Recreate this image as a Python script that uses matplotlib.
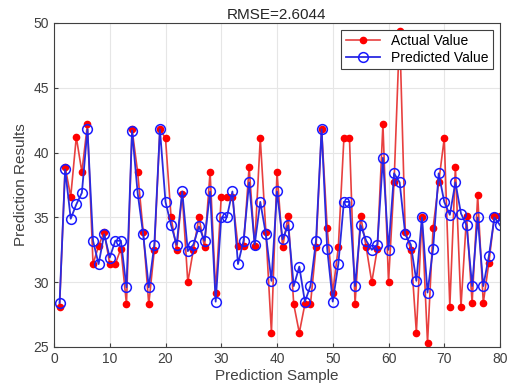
import numpy as np
import matplotlib.pyplot as plt

plt.rcParams['font.family'] = ['Liberation Sans', 'DejaVu Sans']

sample = np.arange(1, 81)
actual = [28.1, 38.9, 36.6, 41.2, 38.5, 42.2, 31.4, 32.8, 33.9, 31.4,
          31.4, 32.6, 28.3, 41.8, 38.5, 33.9, 28.3, 32.5, 41.8, 41.1,
          35.0, 32.5, 36.8, 30.0, 32.5, 35.0, 32.7, 38.5, 29.2, 36.6,
          36.6, 36.6, 32.8, 32.8, 38.9, 32.8, 41.1, 33.9, 26.1, 38.5,
          32.7, 35.1, 28.3, 26.1, 28.3, 28.3, 32.7, 41.8, 34.2, 29.2,
          32.7, 41.1, 41.1, 28.3, 35.1, 32.7, 30.0, 32.6, 42.2, 30.0,
          37.7, 49.4, 33.9, 32.5, 26.1, 35.0, 25.3, 34.2, 37.7, 41.1,
          28.1, 38.9, 28.1, 35.1, 28.4, 36.7, 28.4, 31.5, 35.1, 35.1]
predicted = [28.4, 38.7, 34.9, 36.0, 36.9, 41.8, 33.2, 31.4, 33.7, 31.9,
             33.2, 33.2, 29.6, 41.7, 36.9, 33.7, 29.6, 32.9, 41.8, 36.2,
             34.4, 32.9, 37.0, 32.4, 32.9, 34.3, 33.2, 37.0, 28.5, 35.0,
             35.0, 37.0, 31.4, 33.2, 37.7, 32.9, 36.2, 33.7, 30.1, 37.0,
             33.3, 34.4, 29.7, 31.2, 28.5, 29.7, 33.2, 41.8, 32.6, 28.5,
             31.4, 36.2, 36.2, 29.7, 34.4, 33.2, 32.5, 32.9, 39.6, 32.5,
             38.4, 37.7, 33.7, 32.9, 30.1, 35.0, 29.2, 32.6, 38.4, 36.2,
             35.2, 37.7, 35.3, 34.4, 29.7, 35.0, 29.7, 32.0, 35.0, 34.4]

fig = plt.figure(figsize=(5.09, 3.9), dpi=100)
ax = fig.add_axes([54 / 509, 1 - 347 / 390, 446 / 509, 324 / 390])

ax.plot(sample, actual, '-o', color='#e8403f', linewidth=1.2, markersize=4.5,
        markerfacecolor='red', markeredgecolor='red', label='Actual Value')
ax.plot(sample, predicted, '-o', color='#2a2ae0', linewidth=1.3, markersize=7,
        markerfacecolor='none', markeredgecolor='#1a1aff', markeredgewidth=1.1,
        label='Predicted Value')

ax.set_xlim(0, 80)
ax.set_ylim(25, 50)
ax.set_xticks(range(0, 81, 10))
ax.set_yticks(range(25, 51, 5))
ax.grid(True, color='#e6e6e6', linewidth=0.8)
ax.tick_params(direction='in', labelsize=10, colors='#404040', length=3)
for s in ax.spines.values():
    s.set_color('#404040')
    s.set_linewidth(0.8)

ax.set_title('RMSE=2.6044', fontsize=11, color='#262626', pad=3)
ax.set_xlabel('Prediction Sample', fontsize=11, color='#404040', labelpad=2)
ax.set_ylabel('Prediction Results', fontsize=11, color='#404040', labelpad=4)

leg = ax.legend(loc='upper right', fontsize=10, fancybox=False, framealpha=1,
                edgecolor='#404040', handlelength=2.5, borderpad=0.3,
                labelspacing=0.2)
leg.get_frame().set_linewidth(0.8)

fig.savefig('out.png', dpi=100)
